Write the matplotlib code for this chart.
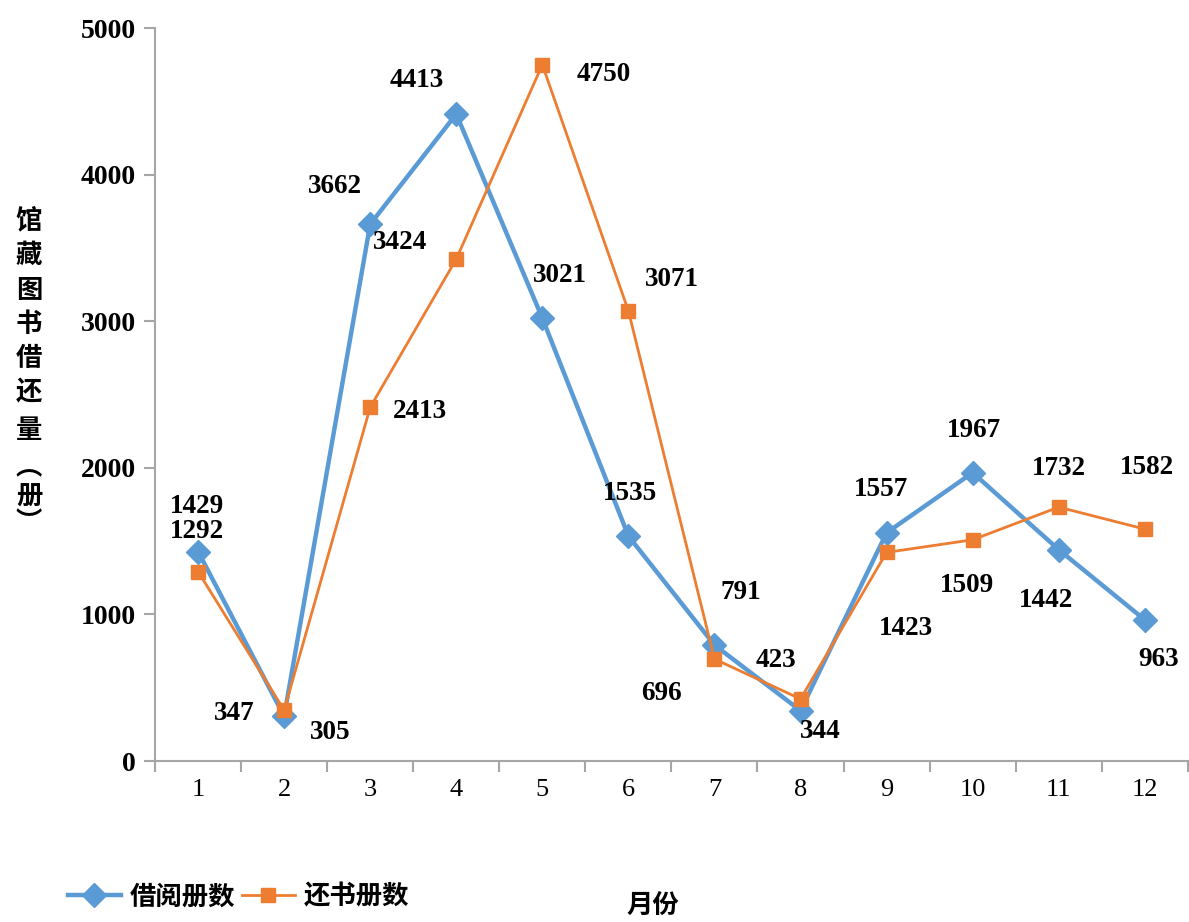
import numpy as np
import matplotlib
matplotlib.use("Agg")
import matplotlib.pyplot as plt

# 数据
months = list(range(1, 13))
borrow = [1429, 305, 3662, 4413, 3021, 1535, 791, 344, 1557, 1967, 1442, 963]
returned = [1292, 347, 2413, 3424, 4750, 3071, 696, 423, 1423, 1509, 1732, 1582]
borrow_name = "借阅册数"
return_name = "还书册数"
y_ticks = [0, 1000, 2000, 3000, 4000, 5000]

# 标签偏移 (像素)
borrow_off = [(-1, 45), (46, -16), (-35, 38), (-40, 34), (18, 43), (2, 42),
              (26, 53), (20, -21), (-6, 43), (1, 42), (-13, -51), (14, -40)]
return_off = [(-1, 40), (-50, -3), (50, -4), (-56, 17), (61, -10), (44, 31),
              (-53, -35), (-25, 39), (19, -76), (-6, -46), (0, 39), (2, 62)]

blue = "#5B9BD5"
orange = "#ED7D31"
axis_col = "#A6A6A6"
serif = "Liberation Serif"
cjk = ["Noto Sans CJK SC", "DejaVu Sans"]

fig = plt.figure(figsize=(11.89, 9.22), dpi=100)
ax = fig.add_axes([0.1304, 0.1746, 0.8686, 0.795])

ax.plot(months, borrow, color=blue, lw=3.2, marker="D", ms=12, label=borrow_name, zorder=3)
ax.plot(months, returned, color=orange, lw=2.0, marker="s", ms=9.5, label=return_name, zorder=3)

for x, v, (dx, dy) in zip(months, borrow, borrow_off):
    ax.annotate(str(v), (x, v), xytext=(dx, dy), textcoords="offset pixels",
                ha="center", va="center", fontsize=19.5, fontweight="bold", family=serif)
for x, v, (dx, dy) in zip(months, returned, return_off):
    ax.annotate(str(v), (x, v), xytext=(dx, dy), textcoords="offset pixels",
                ha="center", va="center", fontsize=19.5, fontweight="bold", family=serif)

ax.set_xlim(0.5, 12.5)
ax.set_ylim(0, 5000)
ax.set_yticks(y_ticks)
ax.set_yticklabels([str(t) for t in y_ticks], fontsize=20, fontweight="bold", family=serif)

# 分类轴：刻度线在类别之间，标签在类别中间
ax.set_xticks(np.arange(0.5, 13, 1))
ax.set_xticklabels([])
ax.set_xticks(months, minor=True)
ax.set_xticklabels([str(m) for m in months], minor=True, fontsize=19, family=serif)
ax.tick_params(axis="x", which="major", length=8, width=1.5, color=axis_col, direction="out")
ax.tick_params(axis="x", which="minor", length=0, pad=13)
ax.tick_params(axis="y", length=8, width=1.5, color=axis_col, direction="out", pad=6)

for s in ["top", "right"]:
    ax.spines[s].set_visible(False)
for s in ["left", "bottom"]:
    ax.spines[s].set_color(axis_col)
    ax.spines[s].set_linewidth(1.5)

# 纵轴标题 (竖排)
ylab_chars = ["馆", "藏", "图", "书", "借", "还", "量", "︵", "册", "︶"]
ylab_y = [221, 255, 290, 324, 358, 393, 430, 468, 497, 523]
for ch, py in zip(ylab_chars, ylab_y):
    fig.text(29 / 1189, 1 - py / 922, ch, ha="center", va="center", fontsize=19,
             fontweight="bold", family=cjk)

fig.text(0.549, 0.017, "月份", ha="center", va="center", fontsize=19,
         fontweight="bold", family=cjk)

fig.legend(loc="center left", bbox_to_anchor=(0.037, 0.027), ncol=2, frameon=False,
           handlelength=2.0, handletextpad=0.35, columnspacing=0.25,
           prop={"family": cjk, "weight": "bold", "size": 19})

fig.savefig("out.png", dpi=100)
